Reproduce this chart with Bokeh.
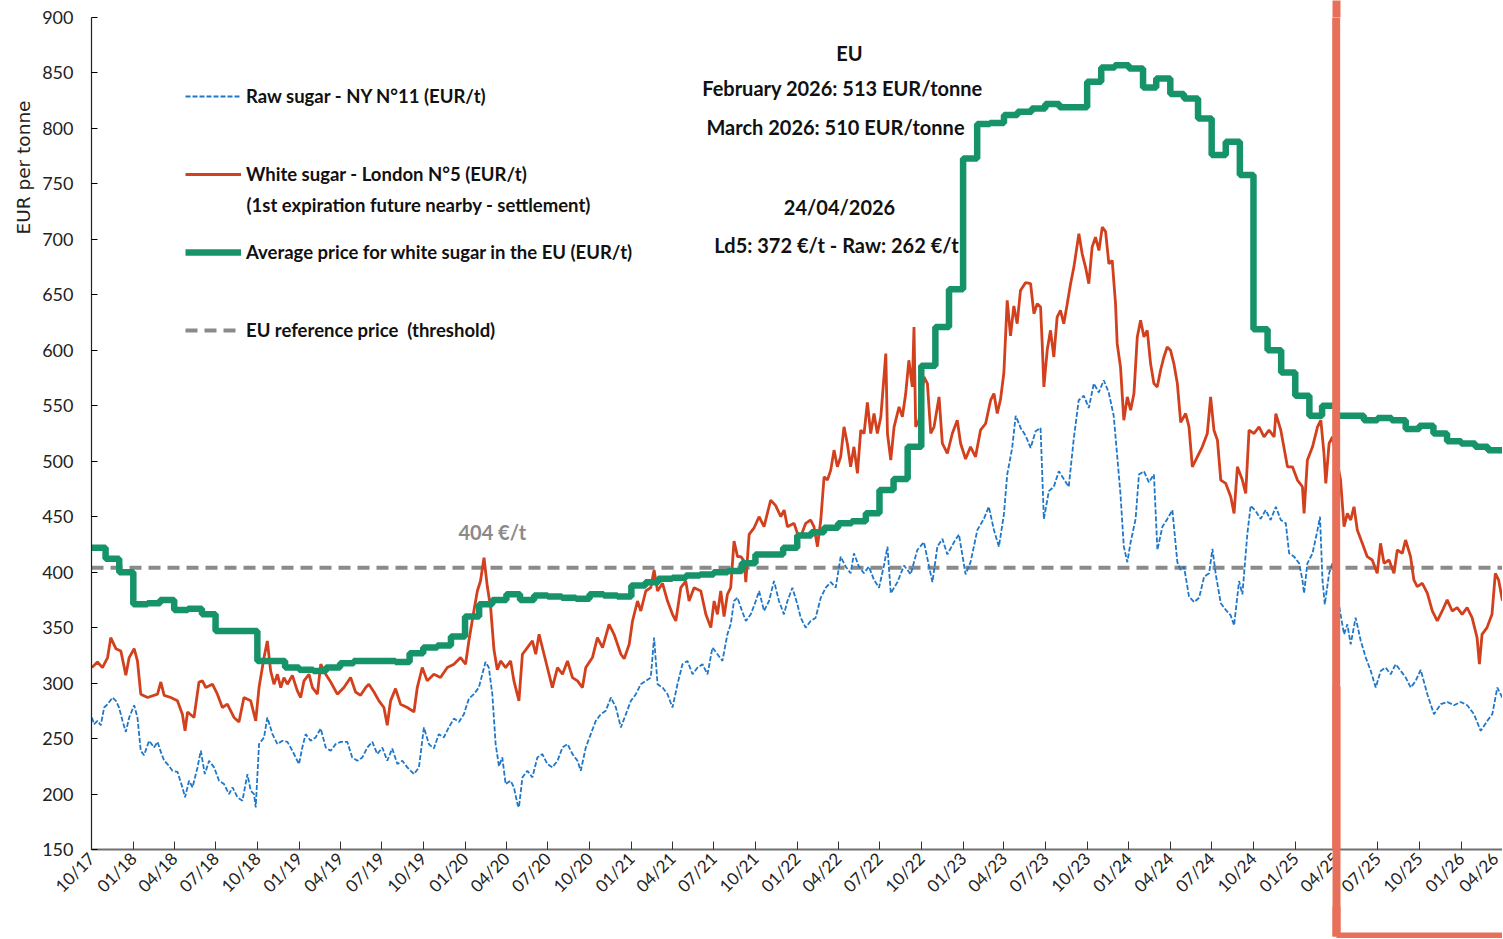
import math
from datetime import datetime
import pandas as pd
from bokeh.plotting import figure
from bokeh.models import (ColumnDataSource, Label, Legend, LegendItem, Span, Title,
                          DatetimeAxis, FixedTicker, DatetimeTickFormatter, MonthsTicker,
                          SingleIntervalTicker, Range1d)
from bokeh.embed import file_html
from bokeh.resources import INLINE

# ---------------- data ----------------
# time in decimal years, prices in EUR/t
WHITE_T = [2017.750, 2017.784, 2017.814, 2017.845, 2017.864, 2017.895, 2017.925, 2017.955, 2017.975, 2018.005,
           2018.025, 2018.045, 2018.086, 2018.146, 2018.166, 2018.186, 2018.226, 2018.266, 2018.296, 2018.312,
           2018.327, 2018.366, 2018.396, 2018.417, 2018.437, 2018.477, 2018.507, 2018.537, 2018.567, 2018.607,
           2018.637, 2018.667, 2018.708, 2018.738, 2018.758, 2018.788, 2018.808, 2018.828, 2018.848, 2018.869,
           2018.889, 2018.908, 2018.929, 2018.959, 2018.989, 2019.009, 2019.029, 2019.059, 2019.080, 2019.110,
           2019.130, 2019.160, 2019.190, 2019.230, 2019.270, 2019.310, 2019.340, 2019.370, 2019.401, 2019.420,
           2019.451, 2019.481, 2019.511, 2019.531, 2019.551, 2019.581, 2019.611, 2019.652, 2019.692, 2019.712,
           2019.742, 2019.772, 2019.812, 2019.852, 2019.893, 2019.933, 2019.973, 2020.003, 2020.023, 2020.053,
           2020.074, 2020.093, 2020.114, 2020.134, 2020.154, 2020.174, 2020.194, 2020.214, 2020.244, 2020.274,
           2020.294, 2020.324, 2020.345, 2020.375, 2020.405, 2020.425, 2020.445, 2020.475, 2020.505, 2020.525,
           2020.556, 2020.586, 2020.616, 2020.646, 2020.676, 2020.706, 2020.726, 2020.766, 2020.796, 2020.827,
           2020.866, 2020.896, 2020.937, 2020.957, 2020.987, 2021.007, 2021.037, 2021.057, 2021.087, 2021.117,
           2021.137, 2021.158, 2021.188, 2021.218, 2021.248, 2021.268, 2021.298, 2021.328, 2021.348, 2021.378,
           2021.419, 2021.449, 2021.479, 2021.499, 2021.519, 2021.539, 2021.559, 2021.579, 2021.599, 2021.619,
           2021.640, 2021.660, 2021.680, 2021.690, 2021.710, 2021.740, 2021.770, 2021.800, 2021.840, 2021.870,
           2021.901, 2021.921, 2021.941, 2021.981, 2022.001, 2022.021, 2022.051, 2022.081, 2022.101, 2022.122,
           2022.142, 2022.162, 2022.182, 2022.202, 2022.222, 2022.242, 2022.262, 2022.282, 2022.302, 2022.322,
           2022.342, 2022.363, 2022.383, 2022.403, 2022.423, 2022.443, 2022.463, 2022.483, 2022.504, 2022.534,
           2022.544, 2022.564, 2022.584, 2022.614, 2022.634, 2022.654, 2022.673, 2022.694, 2022.704, 2022.714,
           2022.734, 2022.764, 2022.785, 2022.805, 2022.825, 2022.855, 2022.875, 2022.905, 2022.935, 2022.965,
           2022.985, 2023.015, 2023.045, 2023.075, 2023.105, 2023.136, 2023.166, 2023.186, 2023.206, 2023.226,
           2023.246, 2023.266, 2023.286, 2023.306, 2023.326, 2023.346, 2023.376, 2023.407, 2023.427, 2023.447,
           2023.467, 2023.477, 2023.487, 2023.507, 2023.527, 2023.547, 2023.567, 2023.587, 2023.607, 2023.628,
           2023.648, 2023.668, 2023.698, 2023.718, 2023.738, 2023.758, 2023.778, 2023.798, 2023.819, 2023.839,
           2023.859, 2023.879, 2023.899, 2023.919, 2023.929, 2023.949, 2023.969, 2023.990, 2024.010, 2024.030,
           2024.050, 2024.070, 2024.090, 2024.110, 2024.130, 2024.150, 2024.170, 2024.190, 2024.210, 2024.230,
           2024.250, 2024.270, 2024.291, 2024.311, 2024.341, 2024.361, 2024.381, 2024.411, 2024.441, 2024.471,
           2024.491, 2024.511, 2024.532, 2024.552, 2024.582, 2024.612, 2024.632, 2024.652, 2024.682, 2024.702,
           2024.722, 2024.752, 2024.782, 2024.812, 2024.842, 2024.873, 2024.883, 2024.913, 2024.953, 2024.983,
           2025.013, 2025.043, 2025.053, 2025.073, 2025.104, 2025.134, 2025.154, 2025.173, 2025.184, 2025.204,
           2025.224, 2025.273, 2025.294, 2025.314, 2025.334, 2025.354, 2025.374, 2025.404, 2025.434, 2025.464,
           2025.494, 2025.514, 2025.535, 2025.565, 2025.595, 2025.615, 2025.645, 2025.665, 2025.695, 2025.715,
           2025.735, 2025.766, 2025.796, 2025.826, 2025.856, 2025.886, 2025.916, 2025.946, 2025.976, 2026.006,
           2026.036, 2026.066, 2026.096, 2026.110, 2026.126, 2026.156, 2026.186, 2026.206, 2026.226, 2026.248,
           2026.310]
WHITE_V = [314, 319, 314, 323, 341, 331, 329, 307, 323, 331,
           320, 290, 287, 290, 301, 289, 287, 284, 272, 257,
           274, 269, 301, 302, 296, 299, 290, 278, 281, 269,
           265, 287, 284, 266, 296, 323, 338, 311, 299, 308,
           296, 305, 299, 307, 293, 287, 302, 308, 296, 290,
           317, 308, 301, 290, 296, 305, 292, 289, 296, 299,
           292, 284, 278, 262, 284, 295, 281, 278, 274, 296,
           314, 302, 308, 305, 314, 317, 323, 317, 338, 365,
           383, 392, 413, 387, 368, 330, 312, 320, 314, 320,
           302, 284, 326, 332, 338, 326, 344, 326, 308, 296,
           314, 308, 320, 305, 302, 296, 314, 323, 341, 332,
           353, 344, 326, 322, 335, 356, 374, 365, 383, 386,
           402, 383, 390, 374, 362, 356, 386, 392, 374, 386,
           383, 362, 350, 374, 362, 383, 360, 380, 386, 428,
           414, 414, 410, 391, 434, 440, 450, 441, 465, 460,
           450, 456, 441, 444, 435, 432, 444, 447, 441, 423,
           447, 486, 483, 492, 510, 495, 504, 531, 516, 495,
           513, 489, 528, 525, 553, 525, 543, 525, 540, 597,
           525, 501, 531, 549, 540, 561, 591, 567, 621, 531,
           537, 576, 570, 525, 531, 558, 516, 507, 525, 537,
           516, 502, 513, 504, 528, 534, 555, 561, 543, 556,
           580, 645, 613, 640, 624, 654, 661, 660, 633, 642,
           639, 606, 567, 600, 618, 594, 630, 636, 624, 642,
           660, 675, 705, 687, 675, 660, 693, 702, 690, 711,
           707, 678, 681, 642, 606, 585, 537, 558, 546, 561,
           612, 627, 612, 618, 588, 570, 567, 582, 594, 603,
           600, 588, 570, 535, 543, 531, 495, 504, 513, 525,
           558, 528, 519, 483, 480, 468, 453, 495, 483, 471,
           528, 525, 531, 522, 528, 522, 543, 528, 495, 495,
           483, 477, 453, 501, 513, 531, 537, 507, 480, 516,
           522, 483, 441, 453, 447, 459, 438, 426, 414, 411,
           399, 426, 408, 411, 399, 420, 417, 429, 414, 393,
           387, 390, 381, 365, 356, 365, 375, 365, 368, 362,
           368, 359, 341, 317, 344, 350, 362, 399, 393, 375,
           372]

RAW_T = [2017.750, 2017.764, 2017.784, 2017.804, 2017.824, 2017.845, 2017.875, 2017.895, 2017.914, 2017.935,
         2017.955, 2017.975, 2018.005, 2018.025, 2018.045, 2018.065, 2018.095, 2018.125, 2018.146, 2018.166,
         2018.186, 2018.206, 2018.236, 2018.266, 2018.296, 2018.312, 2018.336, 2018.357, 2018.387, 2018.407,
         2018.431, 2018.457, 2018.487, 2018.517, 2018.547, 2018.577, 2018.598, 2018.628, 2018.658, 2018.688,
         2018.708, 2018.728, 2018.738, 2018.758, 2018.788, 2018.808, 2018.839, 2018.869, 2018.899, 2018.929,
         2018.959, 2018.999, 2019.019, 2019.039, 2019.069, 2019.099, 2019.130, 2019.160, 2019.190, 2019.220,
         2019.250, 2019.290, 2019.320, 2019.351, 2019.381, 2019.411, 2019.441, 2019.471, 2019.501, 2019.531,
         2019.561, 2019.592, 2019.622, 2019.652, 2019.692, 2019.722, 2019.752, 2019.782, 2019.812, 2019.842,
         2019.872, 2019.902, 2019.933, 2019.963, 2019.993, 2020.023, 2020.053, 2020.083, 2020.104, 2020.123,
         2020.143, 2020.164, 2020.184, 2020.204, 2020.224, 2020.244, 2020.274, 2020.294, 2020.315, 2020.324,
         2020.345, 2020.375, 2020.405, 2020.435, 2020.465, 2020.495, 2020.525, 2020.556, 2020.586, 2020.616,
         2020.646, 2020.676, 2020.696, 2020.726, 2020.756, 2020.786, 2020.816, 2020.846, 2020.877, 2020.907,
         2020.937, 2020.967, 2020.997, 2021.027, 2021.057, 2021.087, 2021.117, 2021.137, 2021.158, 2021.188,
         2021.218, 2021.248, 2021.278, 2021.308, 2021.338, 2021.369, 2021.399, 2021.429, 2021.459, 2021.489,
         2021.519, 2021.549, 2021.579, 2021.599, 2021.619, 2021.640, 2021.660, 2021.690, 2021.720, 2021.750,
         2021.770, 2021.800, 2021.830, 2021.860, 2021.890, 2021.920, 2021.941, 2021.971, 2022.001, 2022.021,
         2022.051, 2022.081, 2022.111, 2022.142, 2022.172, 2022.202, 2022.232, 2022.262, 2022.292, 2022.322,
         2022.342, 2022.372, 2022.402, 2022.432, 2022.463, 2022.493, 2022.523, 2022.544, 2022.564, 2022.604,
         2022.644, 2022.684, 2022.724, 2022.764, 2022.815, 2022.845, 2022.875, 2022.905, 2022.945, 2022.975,
         2023.015, 2023.045, 2023.086, 2023.125, 2023.155, 2023.186, 2023.216, 2023.246, 2023.266, 2023.296,
         2023.317, 2023.347, 2023.377, 2023.407, 2023.437, 2023.467, 2023.487, 2023.517, 2023.547, 2023.577,
         2023.607, 2023.637, 2023.667, 2023.697, 2023.728, 2023.758, 2023.788, 2023.818, 2023.848, 2023.878,
         2023.908, 2023.929, 2023.949, 2023.969, 2023.990, 2024.010, 2024.040, 2024.060, 2024.090, 2024.120,
         2024.150, 2024.171, 2024.201, 2024.231, 2024.261, 2024.291, 2024.311, 2024.331, 2024.361, 2024.392,
         2024.422, 2024.452, 2024.482, 2024.502, 2024.522, 2024.552, 2024.582, 2024.612, 2024.632, 2024.662,
         2024.682, 2024.712, 2024.732, 2024.762, 2024.792, 2024.822, 2024.852, 2024.883, 2024.913, 2024.943,
         2024.963, 2024.993, 2025.023, 2025.043, 2025.053, 2025.073, 2025.104, 2025.134, 2025.149, 2025.164,
         2025.178, 2025.204, 2025.224, 2025.273, 2025.294, 2025.314, 2025.334, 2025.364, 2025.395, 2025.425,
         2025.455, 2025.485, 2025.515, 2025.545, 2025.575, 2025.605, 2025.636, 2025.666, 2025.696, 2025.726,
         2025.756, 2025.796, 2025.836, 2025.877, 2025.917, 2025.957, 2025.997, 2026.037, 2026.077, 2026.118,
         2026.158, 2026.188, 2026.218, 2026.248, 2026.310]
RAW_V = [269, 263, 266, 262, 278, 281, 287, 284, 278, 266,
         256, 269, 280, 269, 239, 235, 248, 242, 247, 238,
         230, 227, 221, 220, 206, 197, 212, 206, 224, 239,
         218, 230, 224, 212, 209, 200, 206, 197, 194, 218,
         203, 200, 188, 245, 251, 269, 254, 245, 248, 247,
         239, 227, 242, 254, 248, 251, 259, 242, 239, 245,
         247, 247, 233, 230, 233, 242, 247, 236, 242, 230,
         241, 227, 230, 224, 218, 224, 260, 245, 241, 254,
         251, 260, 268, 265, 272, 286, 290, 296, 308, 319,
         314, 290, 245, 225, 233, 209, 212, 206, 191, 188,
         215, 221, 215, 233, 236, 227, 224, 230, 242, 245,
         236, 230, 221, 242, 254, 266, 272, 275, 287, 278,
         260, 272, 284, 290, 299, 302, 305, 341, 299, 296,
         290, 278, 299, 317, 320, 308, 314, 317, 308, 332,
         326, 320, 344, 353, 374, 377, 368, 356, 362, 374,
         383, 365, 374, 392, 374, 362, 374, 386, 371, 359,
         350, 356, 359, 377, 386, 391, 386, 414, 405, 399,
         417, 405, 399, 405, 393, 386, 406, 423, 381, 391,
         406, 398, 420, 427, 391, 423, 430, 416, 427, 434,
         398, 409, 438, 448, 459, 438, 423, 452, 488, 512,
         541, 530, 523, 512, 527, 530, 448, 473, 477, 491,
         484, 477, 520, 555, 559, 548, 570, 562, 573, 562,
         541, 505, 470, 423, 409, 427, 448, 488, 491, 481,
         488, 420, 441, 448, 456, 409, 402, 405, 378, 373,
         377, 396, 399, 421, 398, 372, 366, 361, 352, 392,
         380, 435, 460, 455, 448, 456, 447, 459, 447, 444,
         417, 414, 408, 393, 381, 408, 417, 438, 450, 393,
         371, 399, 408, 362, 344, 353, 335, 359, 338, 323,
         311, 296, 311, 314, 308, 317, 311, 305, 296, 302,
         312, 290, 272, 281, 283, 280, 283, 280, 272, 257,
         266, 272, 296, 287, 262]

# monthly average EU white sugar price, Oct 2017 .. Mar 2026
EU_START = "2017-10-01"
EU_AVG = [422, 412, 400,
          371, 372, 375, 366, 367, 362, 347, 347, 347, 320, 320, 314,
          312, 311, 314, 318, 320, 320, 320, 319, 327, 332, 334, 342,
          360, 371, 375, 380, 375, 379, 378, 377, 376, 380, 379, 378,
          388, 391, 394, 395, 397, 398, 400, 401, 408, 416, 416, 422,
          433, 436, 440, 444, 446, 453, 474, 484, 513, 586, 621, 655,
          773, 804, 805, 812, 815, 818, 822, 819, 819, 842, 855, 857,
          854, 837, 845, 831, 827, 809, 776, 788, 758, 619, 600, 580,
          559, 541, 550, 541, 541, 537, 539, 537, 529, 532, 525, 518,
          516, 513, 510]

REF_PRICE = 404
REF_LABEL = "404 €/t"
HIGHLIGHT_FROM = "2025-04-01"

Y_TITLE = "EUR per tonne"
LEGEND_RAW = "Raw sugar - NY N°11 (EUR/t)"
LEGEND_WHITE = "White sugar - London N°5 (EUR/t)"
LEGEND_WHITE_2 = "(1st expiration future nearby - settlement)"
LEGEND_EU = "Average price for white sugar in the EU (EUR/t)"
LEGEND_REF = "EU reference price  (threshold)"
NOTE_LINES = ["EU", "February 2026: 513 EUR/tonne", "March 2026: 510 EUR/tonne",
              "24/04/2026", "Ld5: 372 €/t - Raw: 262 €/t"]

# ---------------- helpers ----------------
def dec_year(t):
    y = int(t)
    start = datetime(y, 1, 1)
    return start + (datetime(y + 1, 1, 1) - start) * (t - y)

FONT = "Lato"
C_RAW = "#1f77c9"
C_WHITE = "#d2401d"
C_EU = "#17936a"
C_REF = "#8a8a8a"
C_BOX = "#e8705a"

white_src = ColumnDataSource(dict(x=[dec_year(t) for t in WHITE_T], y=WHITE_V))
raw_src = ColumnDataSource(dict(x=[dec_year(t) for t in RAW_T], y=RAW_V))
eu_dates = list(pd.date_range(EU_START, periods=len(EU_AVG), freq="MS"))
eu_dates.append(eu_dates[-1] + pd.DateOffset(months=1))
eu_src = ColumnDataSource(dict(x=eu_dates, y=EU_AVG + [EU_AVG[-1]]))
ref_src = ColumnDataSource(dict(x=[eu_dates[0], dec_year(RAW_T[-1])], y=[REF_PRICE, REF_PRICE]))

W, H = 1502, 938
p = figure(width=W, height=H, x_axis_type="datetime", output_backend="svg",
           toolbar_location=None,
           x_range=Range1d(datetime(2017, 10, 1), datetime(2026, 4, 2)),
           y_range=Range1d(150, 900),
           min_border_left=91, min_border_right=0, min_border_top=17, min_border_bottom=H - 849)
p.xgrid.visible = False
p.ygrid.visible = False
p.outline_line_color = None
p.background_fill_color = "white"

r_ref = p.line("x", "y", source=ref_src, line_color=C_REF, line_width=4, line_dash="12 7")
r_raw = p.line("x", "y", source=raw_src, line_color=C_RAW, line_width=1.8, line_dash="5 2")
r_white = p.line("x", "y", source=white_src, line_color=C_WHITE, line_width=2.8)
r_eu = p.step("x", "y", source=eu_src, mode="after", line_color=C_EU, line_width=6.5)

# main x axis
xa = p.xaxis[0]
xa.ticker = MonthsTicker(months=[0, 3, 6, 9])
xa.formatter = DatetimeTickFormatter(months="%m/%y", days="%m/%y", years="%m/%y")
xa.major_label_orientation = math.pi / 4
xa.major_label_text_font = FONT
xa.major_label_text_font_size = "17px"
xa.major_label_text_color = "#222222"
xa.major_label_standoff = 6
xa.axis_line_color = "#707070"
xa.axis_line_width = 2
xa.major_tick_in = 8
xa.major_tick_out = 0
xa.major_tick_line_color = "#333333"
xa.minor_tick_line_color = None

p.yaxis.ticker = SingleIntervalTicker(interval=50)
p.yaxis.major_label_text_font = FONT
p.yaxis.major_label_text_font_size = "18px"
p.yaxis.major_label_text_color = "#222222"
p.yaxis.major_label_standoff = 14
p.yaxis.axis_line_color = "#222222"
p.yaxis.axis_line_width = 1.2
p.yaxis.major_tick_in = 6
p.yaxis.major_tick_out = 0
p.yaxis.minor_tick_line_color = None

# y axis title, placed towards the top like the reference
p.add_layout(Title(text=Y_TITLE, align="right", offset=83, standoff=12,
                   text_font="DejaVu Sans", text_font_size="18.5px",
                   text_font_style="normal", text_color="#222222"), "left")

# legends (one per series, placed like the reference)
def add_legend(label, renderer, loc):
    leg = Legend(items=[LegendItem(label=label, renderers=[renderer])], location=loc,
                 padding=0, margin=0, spacing=0, glyph_width=56, glyph_height=20,
                 label_height=20, label_standoff=5, border_line_alpha=0,
                 background_fill_alpha=0, label_text_font=FONT, label_text_font_size="18.5px",
                 label_text_font_style="bold", label_text_color="#111111")
    p.add_layout(leg)

add_legend(LEGEND_RAW, r_raw, (94, 742))
add_legend(LEGEND_WHITE, r_white, (94, 664))
add_legend(LEGEND_EU, r_eu, (94, 586))
add_legend(LEGEND_REF, r_ref, (94, 508))
p.add_layout(Label(x=155, y=645, x_units="screen", y_units="screen", text=LEGEND_WHITE_2,
                   text_baseline="middle", text_font=FONT, text_font_size="18.5px",
                   text_font_style="bold", text_color="#111111"))

# notes
note_pos = [(758, 797), (751, 762), (744, 723), (748, 643), (745, 605)]
for txt, (sx, sy) in zip(NOTE_LINES, note_pos):
    p.add_layout(Label(x=sx, y=sy, x_units="screen", y_units="screen", text=txt,
                       text_align="center", text_baseline="middle", text_font=FONT,
                       text_font_size="20px", text_font_style="bold", text_color="#111111"))

p.add_layout(Label(x=pd.Timestamp("2020-03-01"), y=436, text=REF_LABEL, text_align="center",
                   text_baseline="middle", text_font=FONT, text_font_size="20px",
                   text_font_style="bold", text_color=C_REF))

# highlight frame from April 2025 onward
hl = pd.Timestamp(HIGHLIGHT_FROM)
hl_ms = hl.value // 10**6
p.add_layout(Span(location=hl, dimension="height", line_color=C_BOX, line_width=8))


def bare_axis(**kw):
    return DatetimeAxis(minor_tick_line_color=None, major_label_text_font_size="0px",
                        major_label_text_color=None, major_label_text_alpha=0,
                        major_label_standoff=0, **kw)

# continuation of the vertical edge below the tick labels (its length sets the gap)
spacer = bare_axis(ticker=FixedTicker(ticks=[hl_ms]), axis_line_color=None,
                   major_tick_line_color=C_BOX, major_tick_line_width=8,
                   major_tick_in=0, major_tick_out=30)
p.add_layout(spacer, "below")
# bottom edge of the highlight frame: an axis line plus its single tick
box_bottom = bare_axis(ticker=FixedTicker(ticks=[hl_ms]), bounds=(hl, datetime(2026, 6, 1)),
                       axis_line_color=C_BOX, axis_line_width=8,
                       major_tick_line_color=C_BOX, major_tick_line_width=8,
                       major_tick_in=250, major_tick_out=0)
p.add_layout(box_bottom, "below")
# part of the frame above the plot area
box_top = bare_axis(ticker=FixedTicker(ticks=[hl_ms]), axis_line_color=None,
                    major_tick_line_color=C_BOX, major_tick_line_width=8,
                    major_tick_in=0, major_tick_out=17)
p.add_layout(box_top, "above")

open("out.html", "w").write(file_html(p, INLINE))
